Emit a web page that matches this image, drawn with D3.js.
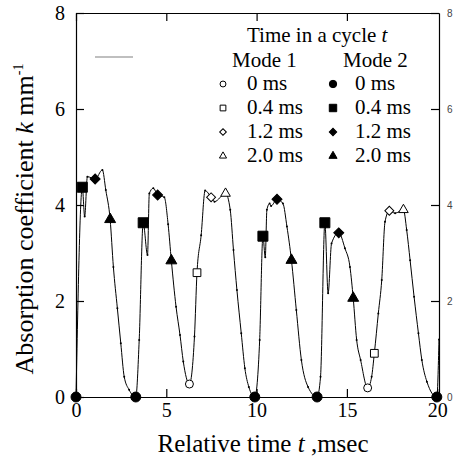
<!DOCTYPE html>
<html>
<head>
<meta charset="utf-8">
<script src="https://cdn.jsdelivr.net/npm/d3@7"></script>
<style>
  body { margin: 0; background: #fff; }
  .axis path, .axis line { stroke: #000; stroke-width: 1.2; }
</style>
</head>
<body>
<div id="chart"></div>
<script>
// measured trace of k(t)
const curveT = [0, 0.35, 0.48, 0.63, 1.06, 1.46, 1.65, 1.89, 2.07, 2.29, 2.48, 2.67, 2.94, 3.31,
  3.5, 3.72, 3.96, 4.06, 4.28, 4.52, 4.89, 5.10, 5.28, 5.54, 5.76, 5.94, 6.28,
  6.56, 6.70, 6.93, 7.15, 7.48, 7.67, 8.28, 8.54, 8.72, 8.91, 9.15, 9.35, 9.57, 9.9,
  10.17, 10.35, 10.48, 10.57, 10.72, 10.80, 11.13, 11.46, 11.68, 11.93, 12.2, 12.48, 12.85, 13.35,
  13.54, 13.78, 13.96, 14.15, 14.55, 14.89, 15.17, 15.35, 15.54, 15.76, 16.15,
  16.37, 16.52, 16.74, 16.93, 17.11, 17.35, 17.67, 18.13, 18.31, 18.5, 18.72, 18.96, 19.15, 19.43, 19.98, 20.1];
const curveK = [0, 4.37, 3.76, 4.59, 4.54, 4.73, 4.31, 3.70, 2.71, 1.85, 1.12, 0.42, 0.15, 0,
  1.19, 3.63, 2.96, 4.24, 4.35, 4.21, 4.16, 3.60, 2.84, 1.88, 1.29, 0.74, 0.27,
  1.26, 2.59, 3.37, 4.30, 4.16, 4.07, 4.24, 3.90, 3.06, 2.23, 1.33, 0.60, 0.21, 0,
  1.19, 3.35, 2.91, 3.90, 4.03, 3.98, 4.12, 4.03, 3.55, 2.85, 1.81, 0.77, 0.21, 0,
  0.42, 3.63, 2.16, 3.20, 3.42, 3.10, 2.71, 2.06, 1.19, 0.77, 0.19,
  0.42, 0.91, 1.74, 2.44, 3.65, 3.88, 3.83, 3.90, 3.48, 2.85, 2.09, 1.33, 0.77, 0.32, 0, 1.2];

// Mode 1 (open) markers, [t, k]
const mode1_0ms = [[6.28, 0.27], [16.15, 0.19]];
const mode1_04ms = [[6.70, 2.59], [16.52, 0.91]];
const mode1_12ms = [[7.48, 4.16], [17.35, 3.88]];
const mode1_20ms = [[8.28, 4.24], [18.13, 3.90]];
// Mode 2 (filled) markers
const mode2_0ms = [[0, 0], [3.31, 0], [9.9, 0], [13.35, 0], [19.98, 0]];
const mode2_04ms = [[0.35, 4.37], [3.72, 3.63], [10.35, 3.35], [13.78, 3.63]];
const mode2_12ms = [[1.06, 4.54], [4.52, 4.21], [11.13, 4.12], [14.55, 3.42]];
const mode2_20ms = [[1.89, 3.70], [5.28, 2.84], [11.93, 2.85], [15.35, 2.06]];

const phaseLabels = ['0 ms', '0.4 ms', '1.2 ms', '2.0 ms'];
const xTicks = [0, 5, 10, 15, 20];
const yTicks = [0, 2, 4, 6, 8];

const serif = '"Liberation Serif", "Times New Roman", Times, serif';
const width = 454, height = 462;
const svg = d3.select('#chart').append('svg')
  .attr('width', width)
  .attr('height', height);

const x = d3.scaleLinear().domain([0, 20.1]).range([76, 439]);
const y = d3.scaleLinear().domain([0, 8]).range([397, 13]);

// frame + axes
svg.append('g')
  .attr('class', 'axis')
  .attr('transform', 'translate(0,397)')
  .call(d3.axisBottom(x).tickValues(xTicks).tickSize(-8).tickPadding(6).tickSizeOuter(0))
  .attr('font-family', serif)
  .attr('font-size', 20);

svg.append('g')
  .attr('class', 'axis')
  .attr('transform', 'translate(0,13)')
  .call(d3.axisTop(x).tickValues([0, 5, 10, 15]).tickSize(-8).tickSizeOuter(0).tickFormat(''));

svg.append('g')
  .attr('class', 'axis')
  .attr('transform', 'translate(76,0)')
  .call(d3.axisLeft(y).tickValues(yTicks).tickSize(-8).tickPadding(11).tickSizeOuter(0))
  .attr('font-family', serif)
  .attr('font-size', 20);

svg.append('g')
  .attr('class', 'axis')
  .attr('transform', 'translate(439,0)')
  .call(d3.axisRight(y).tickValues(yTicks).tickSize(-8).tickPadding(8).tickSizeOuter(0))
  .attr('font-family', '"Liberation Sans", Arial, sans-serif')
  .attr('font-size', 10)
  .selectAll('text').attr('fill', '#444');

// short grey line in the corner
svg.append('line')
  .attr('x1', 95).attr('x2', 133)
  .attr('y1', 57).attr('y2', 57)
  .attr('stroke', '#aaa').attr('stroke-width', 1.5);

// curve
const pts = curveT.map((t, i) => [t, curveK[i]]);
const line = d3.line()
  .x(d => x(d[0]))
  .y(d => y(d[1]))
  .curve(d3.curveMonotoneX);

svg.append('path')
  .datum(pts)
  .attr('fill', 'none')
  .attr('stroke', '#000')
  .attr('stroke-width', 1)
  .attr('d', line);

svg.selectAll('.pt')
  .data(pts)
  .enter().append('circle')
    .attr('class', 'pt')
    .attr('cx', d => x(d[0]))
    .attr('cy', d => y(d[1]))
    .attr('r', 1)
    .attr('fill', '#000');

// symbols
function sym(type, size) {
  return d3.symbol().type(type).size(size)();
}
const shapes = [
  { type: d3.symbolCircle, open: 50, fill: 78, rot: 0 },
  { type: d3.symbolSquare, open: 60, fill: 100, rot: 0 },
  { type: d3.symbolSquare, open: 40, fill: 50, rot: 45 },
  { type: d3.symbolTriangle, open: 40, fill: 52, rot: 0 }
];

function drawMarkers(data, shape, filled) {
  svg.append('g').selectAll('path')
    .data(data)
    .enter().append('path')
      .attr('d', sym(shape.type, filled ? shape.fill : shape.open))
      .attr('transform', d => 'translate(' + x(d[0]) + ',' + y(d[1]) + ') rotate(' + shape.rot + ')')
      .attr('fill', filled ? '#000' : '#fff')
      .attr('stroke', '#000')
      .attr('stroke-width', 1);
}

[mode1_0ms, mode1_04ms, mode1_12ms, mode1_20ms].forEach((d, i) => drawMarkers(d, shapes[i], false));
[mode2_0ms, mode2_04ms, mode2_12ms, mode2_20ms].forEach((d, i) => drawMarkers(d, shapes[i], true));

// legend
const legend = svg.append('g')
  .attr('font-family', serif)
  .attr('font-size', 21);
const title = legend.append('text').attr('x', 247).attr('y', 42);
title.append('tspan').text('Time in a cycle ');
title.append('tspan').attr('font-style', 'italic').text('t');

legend.append('text').attr('x', 232).attr('y', 67).text('Mode 1');
legend.append('text').attr('x', 343).attr('y', 67).text('Mode 2');

phaseLabels.forEach((lab, i) => {
  const yy = 90 + i * 24;
  const sh = shapes[i];
  legend.append('path')
    .attr('d', sym(sh.type, sh.open * 0.55))
    .attr('transform', 'translate(223,' + (yy - 6) + ') rotate(' + sh.rot + ')')
    .attr('fill', '#fff').attr('stroke', '#000').attr('stroke-width', 1);
  legend.append('text').attr('x', 247).attr('y', yy).text(lab);
  legend.append('path')
    .attr('d', sym(sh.type, sh.fill * 0.55))
    .attr('transform', 'translate(333,' + (yy - 6) + ') rotate(' + sh.rot + ')')
    .attr('fill', '#000').attr('stroke', '#000').attr('stroke-width', 1);
  legend.append('text').attr('x', 355).attr('y', yy).text(lab);
});

// axis titles
const xl = svg.append('text')
  .attr('x', 263).attr('y', 452)
  .attr('text-anchor', 'middle')
  .attr('font-family', serif)
  .attr('font-size', 25);
xl.append('tspan').text('Relative time ');
xl.append('tspan').attr('font-style', 'italic').text('t');
xl.append('tspan').text(' ,msec');

const yl = svg.append('text')
  .attr('transform', 'translate(33,219) rotate(-90)')
  .attr('text-anchor', 'middle')
  .attr('font-family', serif)
  .attr('font-size', 26);
yl.append('tspan').text('Absorption coefficient  ');
yl.append('tspan').attr('font-style', 'italic').text('k');
yl.append('tspan').text('  mm');
yl.append('tspan').attr('dy', -10).attr('font-size', 14).text('-1');
</script>
</body>
</html>
